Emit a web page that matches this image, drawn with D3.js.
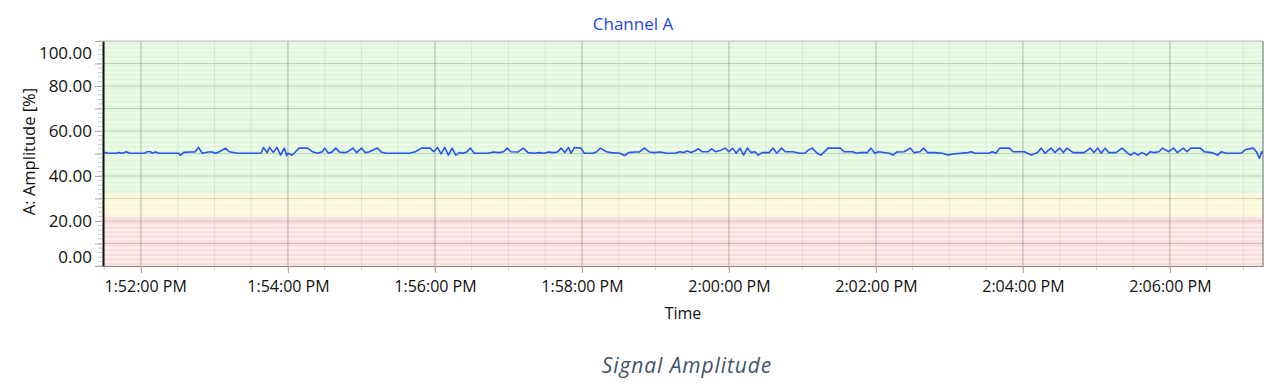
<!DOCTYPE html>
<html>
<head>
<meta charset="utf-8">
<script src="https://cdn.jsdelivr.net/npm/d3@7"></script>
<style>
  body { margin: 0; background: #fff; }
  text { font-family: "Open Sans", sans-serif; }
</style>
</head>
<body>
<div id="chart"></div>
<script>
// time window shown on the x axis
var startTime = "1:51:29 PM";
var endTime = "2:07:16 PM";

// samples: seconds after startTime, amplitude in %
var sampleSeconds = [1, 4, 11, 13, 16, 19, 22, 34, 36, 39, 40, 43, 46, 62, 63, 66, 71, 75, 78, 81,
  86, 89, 92, 95, 100, 103, 110, 129, 131, 134, 136, 139, 142, 145, 148, 150, 151, 154, 156, 160,
  167, 171, 175, 179, 181, 184, 187, 190, 193, 197, 200, 204, 207, 211, 214, 217, 224, 227, 231, 250,
  255, 260, 267, 270, 273, 276, 279, 282, 285, 288, 291, 294, 297, 300, 303, 314, 319, 323, 327, 330,
  333, 339, 343, 347, 352, 356, 360, 364, 368, 371, 374, 377, 380, 382, 385, 390, 393, 400, 403, 406,
  411, 415, 422, 424, 426, 429, 434, 438, 442, 446, 450, 455, 460, 467, 471, 474, 477, 480, 483, 486,
  489, 494, 497, 500, 505, 508, 511, 514, 517, 520, 523, 526, 529, 532, 535, 538, 544, 547, 550, 554,
  557, 563, 569, 573, 576, 579, 583, 586, 589, 592, 602, 605, 612, 615, 618, 624, 627, 630, 633, 642,
  645, 648, 654, 659, 662, 667, 670, 673, 679, 685, 690, 694, 706, 709, 712, 723, 726, 729, 732, 740,
  743, 752, 758, 763, 766, 769, 774, 777, 781, 784, 787, 792, 801, 806, 809, 812, 815, 818, 821, 827,
  832, 836, 839, 842, 845, 848, 852, 855, 858, 862, 865, 870, 874, 877, 882, 885, 888, 896, 899, 905,
  910, 913, 917, 929, 933, 939, 942, 944, 946, 947];
var amplitude = [50.5, 50.1, 50.1, 50.4, 50.1, 50.8, 50.1, 50.1, 50.8, 50.8, 50.1, 50.7, 50.1, 50.1, 49.2, 50.5, 50.7, 50.7, 52.7, 50.1,
  50.7, 50.7, 50.1, 50.8, 52.4, 50.8, 50.1, 50.1, 52.7, 50.4, 52.7, 50.5, 52.7, 49.3, 52.4, 49.0, 50.1, 49.3, 50.1, 52.4,
  52.4, 50.8, 50.1, 50.8, 52.4, 50.1, 50.7, 52.4, 50.7, 50.4, 50.8, 52.4, 50.4, 52.4, 50.4, 50.7, 52.4, 50.7, 50.1, 50.1,
  50.8, 52.4, 52.4, 50.8, 52.7, 49.8, 52.7, 49.3, 52.4, 49.3, 50.4, 50.1, 50.7, 52.4, 50.1, 50.1, 50.7, 50.4, 50.8, 52.4,
  50.8, 50.7, 52.4, 50.4, 50.1, 50.4, 50.1, 50.7, 50.4, 50.7, 52.4, 50.4, 52.7, 50.1, 52.7, 52.4, 50.1, 50.1, 50.8, 52.4,
  50.8, 50.4, 50.1, 49.6, 49.1, 50.4, 50.7, 50.7, 52.4, 50.7, 50.4, 50.7, 50.1, 50.1, 50.8, 50.4, 51.1, 50.4, 51.1, 52.1,
  50.8, 50.8, 52.1, 50.8, 51.6, 52.4, 50.8, 52.4, 50.1, 52.4, 49.3, 52.4, 50.4, 50.8, 49.3, 50.4, 50.4, 52.4, 50.1, 52.4,
  50.8, 50.8, 50.1, 50.1, 51.6, 52.4, 50.1, 49.3, 50.8, 52.4, 52.4, 50.8, 50.8, 50.1, 50.4, 50.4, 52.4, 50.1, 50.8, 50.1,
  49.3, 50.7, 50.8, 52.4, 50.4, 50.8, 52.4, 50.4, 50.4, 50.1, 49.3, 49.8, 50.4, 50.8, 50.1, 50.1, 50.8, 50.1, 52.4, 52.4,
  50.8, 50.8, 49.3, 50.4, 52.4, 50.1, 52.4, 50.4, 52.4, 50.4, 52.4, 50.4, 50.4, 52.4, 50.4, 52.4, 50.1, 52.4, 50.4, 50.4,
  52.4, 50.4, 49.3, 50.4, 49.3, 50.4, 49.3, 50.8, 50.4, 50.8, 52.4, 50.8, 52.4, 50.4, 52.4, 50.8, 52.4, 52.4, 50.8, 50.4,
  49.3, 50.8, 50.1, 50.1, 51.8, 52.4, 50.4, 47.9, 50.8, 50.4];

// background zones (amplitude %): red below, yellow between, green above
var zoneBreaks = [22.5, 32.5];
var yLabelValues = [0, 20, 40, 60, 80, 100];

var margin = { top: 41, right: 24, bottom: 124, left: 103 },
  width = 1287 - margin.left - margin.right,
  height = 390 - margin.top - margin.bottom;

var svg = d3.select("#chart")
  .append("svg")
  .attr("width", 1287)
  .attr("height", 390);

var g = svg.append("g")
  .attr("transform", "translate(" + margin.left + "," + margin.top + ")");

var parseTime = d3.timeParse("%I:%M:%S %p");
var t0 = parseTime(startTime), t1 = parseTime(endTime);
var data = sampleSeconds.map(function (s, i) {
  return { time: d3.timeSecond.offset(t0, s), value: amplitude[i] };
});

var x = d3.scaleTime().domain([t0, t1]).range([0, width]);
var y = d3.scaleLinear().domain([0, 100]).range([height, 0]);

// zones
var zones = [
  { from: 0, to: zoneBreaks[0], color: "#fbdfdf" },
  { from: zoneBreaks[0], to: zoneBreaks[1], color: "#fbf9d8" },
  { from: zoneBreaks[1], to: 100, color: "#e1f8dc" }
];
g.selectAll(".zone")
  .data(zones)
  .enter()
  .append("rect")
  .attr("x", 0)
  .attr("width", width)
  .attr("y", function (d) { return y(d.to); })
  .attr("height", function (d) { return y(d.from) - y(d.to); })
  .attr("fill", function (d) { return d.color; });

// horizontal minor lines every 2 %
var yMinor = d3.range(2, 100, 2).filter(function (v) { return v % 10 !== 0; });
g.selectAll(".hminor")
  .data(yMinor)
  .enter()
  .append("line")
  .attr("x1", 0).attr("x2", width)
  .attr("y1", function (d) { return y(d); })
  .attr("y2", function (d) { return y(d); })
  .attr("stroke", "#ffffff")
  .attr("stroke-opacity", 0.55)
  .attr("stroke-width", 1.5);

// vertical minor lines every 30 s
var xMinor = x.ticks(d3.timeSecond.every(30));
var xMajor = x.ticks(d3.timeMinute.every(2));
g.selectAll(".vminor")
  .data(xMinor)
  .enter()
  .append("line")
  .attr("x1", function (d) { return x(d); })
  .attr("x2", function (d) { return x(d); })
  .attr("y1", 0).attr("y2", height)
  .attr("stroke", "#999")
  .attr("stroke-opacity", 0.18);

// major grid
var yMajor = d3.range(10, 100, 10);
g.selectAll(".hmajor")
  .data(yMajor)
  .enter()
  .append("line")
  .attr("x1", 0).attr("x2", width)
  .attr("y1", function (d) { return y(d); })
  .attr("y2", function (d) { return y(d); })
  .attr("stroke", "#777")
  .attr("stroke-opacity", 0.3);
g.selectAll(".vmajor")
  .data(xMajor)
  .enter()
  .append("line")
  .attr("x1", function (d) { return x(d); })
  .attr("x2", function (d) { return x(d); })
  .attr("y1", 0).attr("y2", height)
  .attr("stroke", "#777")
  .attr("stroke-opacity", 0.38);

// signal line
svg.append("clipPath").attr("id", "clip")
  .append("rect").attr("width", width).attr("height", height);

var line = d3.line()
  .x(function (d) { return x(d.time); })
  .y(function (d) { return y(d.value); });

g.append("path")
  .datum(data)
  .attr("clip-path", "url(#clip)")
  .attr("fill", "none")
  .attr("stroke", "#2a55ee")
  .attr("stroke-width", 1.6)
  .attr("stroke-linejoin", "round")
  .attr("d", line);

// frame
g.append("line").attr("x1", 0).attr("x2", width).attr("y1", 0).attr("y2", 0)
  .attr("stroke", "#b8b8b8");
g.append("line").attr("x1", width).attr("x2", width).attr("y1", 0).attr("y2", height)
  .attr("stroke", "#666");

// X axis
var xAxis = g.append("g")
  .attr("transform", "translate(0," + height + ")");
xAxis.selectAll(".xminortick")
  .data(xMinor)
  .enter()
  .append("line")
  .attr("x1", function (d) { return x(d); })
  .attr("x2", function (d) { return x(d); })
  .attr("y1", 0).attr("y2", 4)
  .attr("stroke", "#cfcfcf");
xAxis.call(d3.axisBottom(x)
  .tickValues(xMajor)
  .tickSize(7)
  .tickSizeOuter(0)
  .tickFormat(d3.timeFormat("%-I:%M:%S %p")));
xAxis.select(".domain").attr("stroke", "#8a8a8a");
xAxis.selectAll(".tick line").attr("stroke", "#a8a8a8");
xAxis.selectAll(".tick text")
  .attr("y", 15)
  .style("font-family", "'Open Sans', sans-serif")
  .style("font-size", "16px")
  .attr("fill", "#111")
  .each(function (d) {
    var w = this.getComputedTextLength();
    var left = x(d) - w / 2;
    if (left < 1) d3.select(this).attr("x", 1 - left);
  });

// Y axis
var yAxis = g.append("g");
yAxis.selectAll(".yminortick")
  .data(d3.range(0, 101, 2))
  .enter()
  .append("line")
  .attr("x1", -5).attr("x2", 0)
  .attr("y1", function (d) { return y(d); })
  .attr("y2", function (d) { return y(d); })
  .attr("stroke", "#cfcfcf");
yAxis.call(d3.axisLeft(y)
  .tickValues(d3.range(0, 101, 10))
  .tickSize(8)
  .tickSizeOuter(0)
  .tickFormat(function (d) { return yLabelValues.indexOf(d) >= 0 ? d3.format(".2f")(d) : ""; }));
yAxis.select(".domain").attr("stroke", "#111").attr("stroke-width", 2);
yAxis.selectAll(".tick line").attr("stroke", "#a8a8a8");
yAxis.selectAll(".tick text")
  .attr("x", -11)
  .style("font-family", "'Open Sans', sans-serif")
  .style("font-size", "17px")
  .attr("fill", "#111")
  .attr("transform", function (d) {
    var pos = y(d);
    var shifted = Math.max(12, Math.min(height - 9, pos));
    return "translate(0," + (shifted - pos) + ")";
  });

// titles
svg.append("text")
  .attr("x", 633).attr("y", 30)
  .attr("text-anchor", "middle")
  .style("font-size", "17px")
  .attr("fill", "#2443f0")
  .text("Channel A");

svg.append("text")
  .attr("transform", "translate(35," + (margin.top + height / 2 - 2) + ")rotate(-90)")
  .attr("text-anchor", "middle")
  .style("font-size", "16.5px")
  .attr("fill", "#111")
  .text("A: Amplitude [%]");

svg.append("text")
  .attr("x", margin.left + width / 2).attr("y", 319)
  .attr("text-anchor", "middle")
  .style("font-size", "16px")
  .attr("fill", "#111")
  .text("Time");

svg.append("text")
  .attr("x", 687).attr("y", 373)
  .attr("text-anchor", "middle")
  .style("font-size", "21px")
  .style("font-style", "italic")
  .style("letter-spacing", "0.9px")
  .attr("fill", "#44546a")
  .text("Signal Amplitude");
</script>
</body>
</html>
